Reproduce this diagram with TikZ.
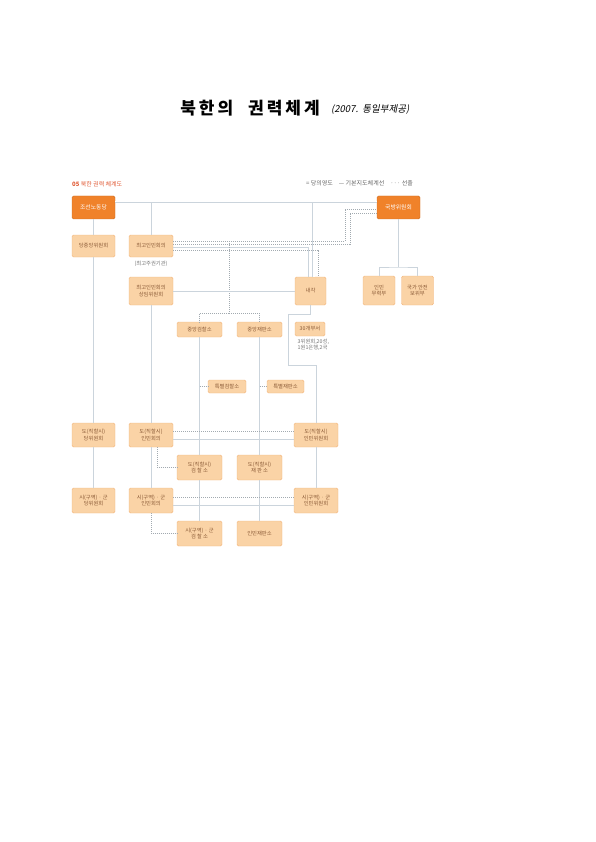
\documentclass[tikz,border=0pt]{standalone}
\usepackage{fontspec}
\setmainfont{Noto Sans CJK KR}
\newfontfamily\slfont{Noto Sans CJK KR}[FakeSlant=0.2]
\usetikzlibrary{calc}
\definecolor{boxFill}{HTML}{FAD3A6}
\definecolor{boxLine}{HTML}{F2B57C}
\definecolor{hqFill}{HTML}{F0822A}
\definecolor{boxText}{HTML}{8A5A36}
\definecolor{wire}{HTML}{CBD4DC}
\definecolor{subRed}{HTML}{E05A35}

\begin{document}
\begin{tikzpicture}[x=1pt,y=-1pt,font=\fontsize{5.3}{6.3}\selectfont,
  box/.style={draw=boxLine,fill=boxFill,rounded corners=1.5pt,text=boxText,align=center,inner sep=0pt,line width=0.4pt,minimum width=44pt,minimum height=24pt},
  flat/.style={minimum width=45pt,minimum height=15pt},
  hq/.style={draw=hqFill!85!black,fill=hqFill,rounded corners=1.5pt,text=white,align=center,inner sep=0pt,minimum width=43pt,minimum height=23pt,font=\fontsize{5.8}{6.8}\selectfont},
  ln/.style={draw=wire,line width=0.6pt},
  sel/.style={draw=wire!80!black,line width=0.5pt,dash pattern=on 1pt off 1pt},
  nt/.style={text=black!55,align=left,inner sep=0pt}]
  \useasboundingbox (0,0) rectangle (595,842);
  % title
  \node (title) at (250,108.5) {\fontsize{17}{17}\selectfont\bfseries 북\kern3pt한\kern3pt의\kern15pt권\kern3pt력\kern3pt체\kern3pt계};
  \node[anchor=west,inner sep=0pt] (source) at (331,110) {\slfont\fontsize{9.5}{10}\selectfont (2007.\ \ 통일부제공)};
  \node[anchor=west,inner sep=0pt,text=subRed,font=\fontsize{6}{6.5}\selectfont] (sub) at (72,184) {\textbf{05} 북한 권력 체계도};
  \node[anchor=west,inner sep=0pt,text=black!60,font=\fontsize{6}{6.5}\selectfont] (legend) at (306,183) {= 당의영도\quad — 기본지도체계선\quad ··· 선출};
  % central level
  \node[hq] (wpk) at (93.5,207.5) {조선노동당};
  \node[hq] (ndc) at (398.5,207.5) {국방위원회};
  \node[box,minimum width=43pt,minimum height=22pt] (cc) at (93.5,246) {당중앙위원회};
  \node[box,minimum height=22pt] (spa) at (151,246) {최고인민회의};
  \node[nt,anchor=north] (spanote) at (151,260.5) {(최고주권기관)};
  \node[box,minimum height=28pt] (spas) at (151,291) {최고인민회의\\상임위원회};
  \node[box,minimum width=31pt,minimum height=28pt] (cab) at (310.5,291) {내각};
  \node[box,minimum width=32pt,minimum height=29pt] (army) at (379,290.5) {인민\\무력부};
  \node[box,minimum width=32pt,minimum height=29pt] (ssd) at (417.5,290.5) {국가 안전\\보위부};
  \node[box,flat] (cpo) at (199.5,329.5) {중앙검찰소};
  \node[box,flat] (ccrt) at (259.5,329.5) {중앙재판소};
  \node[box,flat,minimum width=30pt,minimum height=14pt] (dept) at (310,329) {30개부서};
  \node[nt,anchor=north west] (deptnote) at (297.5,339) {3위원회,20성,\\1원1은행,2국};
  \node[box,minimum width=38pt,minimum height=13pt] (spo) at (227,386.5) {특별검찰소};
  \node[box,minimum width=37pt,minimum height=13pt] (scrt) at (285.5,386.5) {특별재판소};
  % provincial level
  \node[box,minimum width=43pt] (ppc) at (93.5,435) {도(직할시)\\당위원회};
  \node[box] (ppa) at (151,435) {도(직할시)\\인민회의};
  \node[box] (ppcm) at (316,435) {도(직할시)\\인민위원회};
  \node[box,minimum width=45pt,minimum height=25pt] (ppo) at (199.5,467.5) {도(직할시)\\검 찰 소};
  \node[box,minimum width=45pt,minimum height=25pt] (pcrt) at (259.5,467.5) {도(직할시)\\재 판 소};
  % city and county level
  \node[box,minimum width=43pt,minimum height=25pt] (cpc) at (93.5,500.5) {시(구역) · 군\\당위원회};
  \node[box,minimum height=25pt] (cpa) at (151,500.5) {시(구역) · 군\\인민회의};
  \node[box,minimum height=25pt] (ccm) at (316,500.5) {시(구역) · 군\\인민위원회};
  \node[box,minimum width=45pt,minimum height=25pt] (cpo2) at (199.5,533.5) {시(구역) · 군\\검 찰 소};
  \node[box,minimum width=45pt,minimum height=25pt] (ccrt2) at (259.5,533.5) {인민재판소};
  % party lines
  \draw[ln,line width=0.45pt,double=white,double distance=1pt] (wpk.east |- 0,202) -- (ndc.west |- 0,202);
  \draw[ln] (151,203) -- (spa.north);
  \draw[ln,line width=0.45pt,double=white,double distance=2pt] (313.5,203) -- (cab.north -| 313.5,0);
  \draw[ln] (wpk) -- (cc); \draw[ln] (cc) -- (ppc); \draw[ln] (ppc) -- (cpc);
  % election and guidance from the assembly
  \draw[sel] (spa.east |- 0,241) -| (345,209) -- (ndc.west |- 0,209);
  \draw[sel] (spa.east |- 0,244) -| (350,213) -- (ndc.west |- 0,213);
  \draw[ln] (spa.east |- 0,247) -| (cab.north -| 308,0);
  \draw[sel] (spa.east |- 0,250) -| (cab.north -| 318,0);
  \coordinate (hub) at (229,241);
  \coordinate (hubdn) at (229,313);
  \draw[sel] (hub) -- (hubdn) -| (cpo.north); \draw[sel] (hubdn) -| (ccrt.north);
  \draw[ln] (spas) -- (cab);
  \draw[ln] (spas) -- (ppa); \draw[ln] (ppa) -- (cpa);
  \draw[ln] (cab.south) -- (310.5,314) -| (288,365) -| (ppcm.north);
  \draw[ln] (ppcm) -- (ccm);
  % prosecutors and courts
  \draw[ln] (cpo) -- (ppo); \draw[ln] (ppo) -- (cpo2);
  \draw[ln] (ccrt) -- (pcrt); \draw[ln] (pcrt) -- (ccrt2);
  \draw[sel] (cpo.south |- spo.west) -- (spo.west);
  \draw[sel] (ccrt.south |- scrt.west) -- (scrt.west);
  % local assemblies
  \draw[sel] (ppa.east |- 0,431) -- (ppcm.west |- 0,431);
  \draw[ln] (ppa.east |- 0,439) -- (ppcm.west |- 0,439);
  \draw[sel] (cpa.east |- 0,497) -- (ccm.west |- 0,497);
  \draw[ln] (cpa.east |- 0,505) -- (ccm.west |- 0,505);
  \draw[sel] (ppa.south -| 157,0) |- (ppo.west);
  \draw[sel] (cpa.south) |- (cpo2.west);
  % defence commission
  \coordinate (ndcsplit) at (398.5,267);
  \draw[ln] (ndc) -- (ndcsplit);
  \draw[ln] (army) |- (ndcsplit) -| (ssd);
\end{tikzpicture}
\end{document}
